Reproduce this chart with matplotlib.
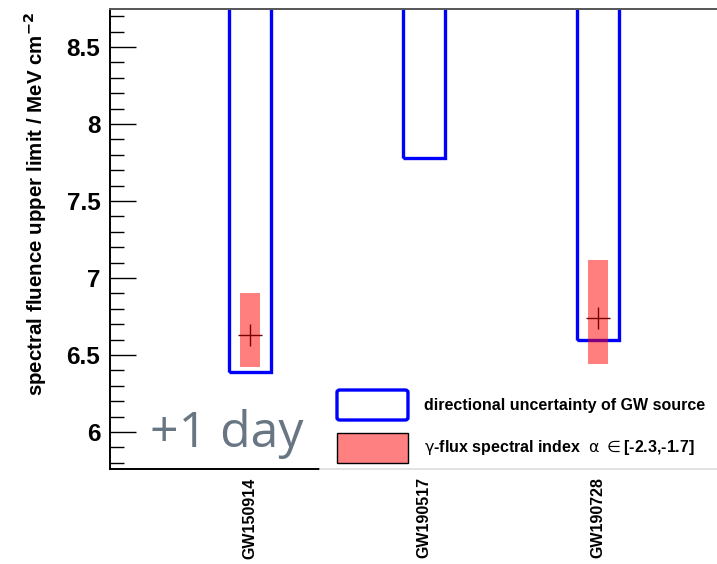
import matplotlib
matplotlib.use('Agg')
import matplotlib.pyplot as plt
from matplotlib.patches import Rectangle, FancyBboxPatch
from matplotlib.lines import Line2D
import numpy as np

# data
events = ['GW150914', 'GW190517', 'GW190728']
box_low = [6.39, 7.78, 6.60]          # lower edge of directional-uncertainty box
band_low = [6.42, np.nan, 6.44]       # gamma-flux spectral index band
band_high = [6.90, np.nan, 7.12]
central = [6.63, np.nan, 6.74]

plt.rcParams['font.family'] = ['Liberation Sans', 'DejaVu Sans']

fig = plt.figure(figsize=(7.17, 5.64), dpi=100)
ax = fig.add_axes([0.1534, 0.1684, 0.8466, 0.8156])

x = np.arange(1, len(events) + 1)
ax.bar(x, 5.0, bottom=box_low, width=0.241, fill=False, edgecolor='#0000ff', linewidth=2.4, zorder=2)
bh = np.array(band_high) - np.array(band_low)
ax.bar(x, bh, bottom=band_low, width=0.12, color='red', alpha=0.5, linewidth=0, zorder=3)
ax.errorbar(x, central, xerr=0.068, yerr=0.072, fmt='none', ecolor='#7a0000', elinewidth=1, capsize=0, zorder=4)

ax.set_xlim(0.195, 3.684)
ax.set_ylim(5.76, 8.747)
ax.set_yticks(np.arange(6, 8.51, 0.5))
ax.set_yticklabels(['6', '6.5', '7', '7.5', '8', '8.5'])
ax.set_yticks(np.arange(5.8, 8.75, 0.1), minor=True)
ax.tick_params(axis='y', which='major', direction='in', length=19, width=1, labelsize=17.5, pad=7)
ax.tick_params(axis='y', which='minor', direction='in', length=10, width=1)
for lab in ax.get_yticklabels():
    lab.set_fontweight('bold')
ax.set_xticks(x)
ax.set_xticklabels(events, rotation=90, fontsize=11.5, fontweight='bold', va='top')
ax.tick_params(axis='x', length=0, pad=6)

ax.spines['right'].set_visible(False)
for s in ['left', 'top', 'bottom']:
    ax.spines[s].set_linewidth(1.4)
ax.spines['top'].set_color('#555555')

fig.text(0.049, 0.639, 'spectral fluence upper limit / MeV cm$^{\\mathbf{-2}}$',
         rotation=90, ha='center', va='center', fontsize=14.8, fontweight='bold')

fig.text(0.209, 0.2074, '+1 day', fontsize=36, color='#687684', family='Open Sans',
         ha='left', va='baseline')

# legend
fig.patches.append(Rectangle((0.446, 0.1664), 0.56, 0.16, transform=fig.transFigure,
                             facecolor='white', edgecolor='none', zorder=5))
fig.lines.append(Line2D([0.446, 1.0], [0.1684, 0.1684], transform=fig.transFigure,
                        color='#dddddd', linewidth=1.2, zorder=6))
fig.patches.append(FancyBboxPatch((0.470, 0.2553), 0.099, 0.0532, boxstyle='round,pad=0,rounding_size=0.004',
                                  transform=fig.transFigure, facecolor='white',
                                  edgecolor='#0000ff', linewidth=2.4, zorder=7))
fig.patches.append(Rectangle((0.470, 0.179), 0.099, 0.0532, transform=fig.transFigure,
                             facecolor='#ff8080', edgecolor='black', linewidth=1, zorder=7))
fig.text(0.5914, 0.2819, 'directional uncertainty of GW source', fontsize=11.5, fontweight='bold',
         va='center', ha='left', zorder=8)
fig.text(0.5914, 0.2057, '$\\mathrm{\\gamma}$-flux spectral index  $\\mathrm{\\alpha}$ $\\in$[-2.3,-1.7]',
         fontsize=11.5, fontweight='bold', va='center', ha='left', zorder=8)

fig.savefig('out.png', dpi=100)
